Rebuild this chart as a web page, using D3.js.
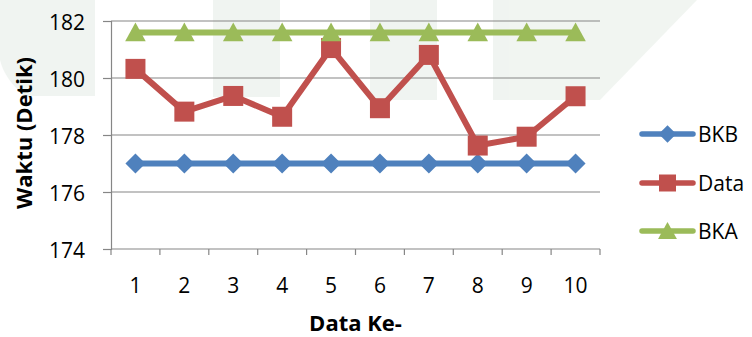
<!DOCTYPE html>
<html>
<head>
<meta charset="utf-8">
<script src="https://cdn.jsdelivr.net/npm/d3@7"></script>
<style>
  html, body { margin: 0; padding: 0; background: #ffffff; }
  svg { display: block; }
  text { font-family: "Open Sans", "Noto Sans", sans-serif; fill: #000; }
</style>
</head>
<body>
<svg id="chart" width="752" height="337"></svg>
<script>
// Category labels on the x axis
const categories = ["1", "2", "3", "4", "5", "6", "7", "8", "9", "10"];
// Lower control limit (BKB)
const bkb = [177, 177, 177, 177, 177, 177, 177, 177, 177, 177];
// Measured times (Data)
const dataValues = [180.32, 178.82, 179.37, 178.64, 181.05, 178.94, 180.81, 177.63, 177.94, 179.36];
// Upper control limit (BKA)
const bka = [181.6, 181.6, 181.6, 181.6, 181.6, 181.6, 181.6, 181.6, 181.6, 181.6];
// Y axis ticks
const yTicks = [174, 176, 178, 180, 182];

const series = [
  { name: "BKB", values: bkb, color: "#4F81BD", marker: "diamond" },
  { name: "Data", values: dataValues, color: "#C0504D", marker: "square" },
  { name: "BKA", values: bka, color: "#9BBB59", marker: "triangle" }
];

const svg = d3.select("#chart");
const plot = { left: 111, right: 600, top: 21, bottom: 249 };

// Faint page watermark behind the chart
const wm = svg.append("g").attr("fill", "#edf2ee").attr("opacity", 0.8);
wm.append("path").attr("d", "M0,0H95V96H25Q5,80 0,60Z");
wm.append("rect").attr("x", 213).attr("y", 0).attr("width", 67).attr("height", 97);
wm.append("rect").attr("x", 370).attr("y", 0).attr("width", 67).attr("height", 100);
wm.append("path").attr("d", "M493,0H697L600,100H493Z");

const x = d3.scaleBand().domain(categories).range([plot.left, plot.right]);
const y = d3.scaleLinear().domain([174, 182]).range([plot.bottom, plot.top]);

// Horizontal gridlines
svg.append("g")
  .selectAll("line")
  .data(yTicks.filter(t => t !== 174))
  .join("line")
  .attr("x1", plot.left).attr("x2", plot.right)
  .attr("y1", d => y(d)).attr("y2", d => y(d))
  .attr("stroke", "#868686").attr("stroke-width", 1.2);

// Y axis
const yAxis = svg.append("g")
  .attr("transform", `translate(${plot.left},0)`)
  .call(d3.axisLeft(y).tickValues(yTicks).tickSize(8).tickPadding(18).tickFormat(d3.format("d")));
yAxis.select(".domain").attr("stroke", "#868686").attr("stroke-width", 1.2);
yAxis.selectAll(".tick line").attr("stroke", "#868686").attr("stroke-width", 1.2);
yAxis.selectAll(".tick text")
  .attr("font-size", 21).attr("font-family", "Open Sans").attr("dy", "0.4em").attr("fill", "#000");

// X axis with ticks at category boundaries
const xAxisG = svg.append("g").attr("transform", `translate(0,${plot.bottom})`);
xAxisG.append("line")
  .attr("x1", plot.left).attr("x2", plot.right)
  .attr("stroke", "#868686").attr("stroke-width", 1.2);
const boundaries = categories.map(c => x(c)).concat([x(categories[categories.length - 1]) + x.bandwidth()]);
xAxisG.selectAll("line.tk")
  .data(boundaries)
  .join("line").attr("class", "tk")
  .attr("x1", d => d).attr("x2", d => d)
  .attr("y1", 0).attr("y2", 6)
  .attr("stroke", "#868686").attr("stroke-width", 1.2);
xAxisG.selectAll("text")
  .data(categories)
  .join("text")
  .attr("x", d => x(d) + x.bandwidth() / 2)
  .attr("y", 44)
  .attr("text-anchor", "middle")
  .attr("font-size", 21)
  .text(d => d);

// Axis titles
svg.append("text")
  .attr("transform", "translate(32,133) rotate(-90)")
  .attr("text-anchor", "middle")
  .attr("font-size", 22)
  .attr("font-weight", "bold")
  .text("Waktu (Detik)");
svg.append("text")
  .attr("x", (plot.left + plot.right) / 2)
  .attr("y", 331)
  .attr("text-anchor", "middle")
  .attr("font-size", 22)
  .attr("font-weight", "bold")
  .text("Data Ke-");

// Marker shapes
function markerPath(type, s) {
  if (type === "diamond") return `M0,${-s}L${s},0L0,${s}L${-s},0Z`;
  if (type === "square") return `M${-s},${-s}H${s}V${s}H${-s}Z`;
  return `M0,${-s * 1.0}L${s * 1.05},${s * 0.9}L${-s * 1.05},${s * 0.9}Z`;
}
const markerSize = { diamond: 10, square: 10, triangle: 9.8 };
const legendMarkerSize = { diamond: 8.8, square: 8.5, triangle: 9 };

const line = d3.line()
  .x((d, i) => x(categories[i]) + x.bandwidth() / 2)
  .y(d => y(d));

series.forEach(s => {
  const g = svg.append("g");
  g.append("path")
    .attr("d", line(s.values))
    .attr("fill", "none")
    .attr("stroke", s.color)
    .attr("stroke-width", 6)
    .attr("stroke-linejoin", "round")
    .attr("stroke-linecap", "round");
  g.selectAll("path.m")
    .data(s.values)
    .join("path").attr("class", "m")
    .attr("transform", (d, i) => `translate(${x(categories[i]) + x.bandwidth() / 2},${y(d)})`)
    .attr("d", markerPath(s.marker, markerSize[s.marker]))
    .attr("fill", s.color);
});

// Legend
const legend = svg.append("g");
const legendY = [134, 183, 231];
series.forEach((s, i) => {
  const g = legend.append("g").attr("transform", `translate(0,${legendY[i]})`);
  g.append("line")
    .attr("x1", 642).attr("x2", 693)
    .attr("stroke", s.color).attr("stroke-width", 5.5)
    .attr("stroke-linecap", "round");
  g.append("path")
    .attr("transform", "translate(667.5,0)")
    .attr("d", markerPath(s.marker, legendMarkerSize[s.marker]))
    .attr("fill", s.color);
  g.append("text")
    .attr("x", 698).attr("y", 0).attr("dy", "0.36em")
    .attr("font-size", 21)
    .text(s.name);
});
</script>
</body>
</html>
